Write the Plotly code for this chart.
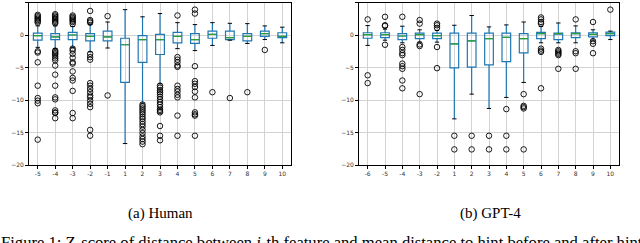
import plotly.graph_objects as go

# ---------------- data ----------------
human_labels = ["-5", "-4", "-3", "-2", "-1", "1", "2", "3", "4", "5", "6", "7", "8", "9", "10"]
human_q1 = [-0.8, -0.7, -0.7, -0.9, -0.9, -7.3, -4.2, -3.0, -1.2, -1.3, -0.5, -0.7, -0.9, -0.2, -0.4]
human_med = [-0.1, -0.3, 0.0, -0.2, -0.3, -1.5, -0.7, -0.7, -0.2, -0.7, 0.1, -0.4, -0.2, 0.2, -0.2]
human_q3 = [0.3, 0.2, 0.4, 0.2, 0.6, -0.5, -0.1, 0.1, 0.4, 0.2, 0.6, 0.6, 0.2, 0.6, 0.35]
human_lo = [-1.9, -2.1, -1.9, -2.6, -2.0, -16.7, -10.5, -7.5, -2.1, -2.4, -1.6, -0.8, -1.3, -0.7, -1.2]
human_hi = [1.4, 1.4, 1.3, 1.6, 2.0, 3.9, 2.8, 3.3, 1.9, 1.6, 1.9, 1.8, 1.75, 1.4, 1.2]
human_fliers = [
    [3.1, 2.9, 2.7, 2.5, 2.3, 2.1, 1.9, -2.5, -2.7, -4.2, -7.8, -9.7, -10.1, -10.5, -16.1],
    [3.2, 3.0, 2.8, 2.6, 2.4, 2.2, 2.0, 1.8, -2.4, -2.6, -2.8, -3.0, -3.3, -3.6, -3.9, -4.7, -6.1,
     -7.8, -9.6, -9.9, -11.6, -11.9, -12.0, -12.8],
    [3.0, 2.8, 2.6, 2.4, 2.2, 2.0, 1.7, -2.1, -2.4, -2.9, -3.5, -4.2, -4.4, -5.6, -6.6, -7.0, -8.6,
     -12.0, -12.8],
    [3.7, 2.3, 2.1, 1.9, -2.9, -3.4, -3.8, -7.4, -7.8, -8.3, -8.8, -9.3, -9.6, -10.1, -10.6, -11.1,
     -14.6, -15.5],
    [2.9, -9.3],
    [],
    [-10.7, -11.0, -11.3, -11.6, -11.9, -12.2, -12.6, -12.9, -13.3, -13.7, -14.1, -14.6, -15.1,
     -15.6, -16.0, -16.4, -16.8],
    [-7.8, -8.1, -8.5, -8.8, -9.1, -9.5, -9.9, -10.3, -10.7, -11.1, -11.5, -11.7, -11.9, -14.0,
     -15.5, -16.2],
    [3.0, -3.4, -3.8, -4.2, -4.7, -4.9, -7.8, -8.3, -8.7, -9.2, -9.6, -12.4, -15.5],
    [3.9, 3.3, -4.8, -7.1, -7.5, -8.0, -8.7, -9.6, -11.9, -12.2, -12.4, -15.5],
    [-8.8],
    [-9.7],
    [-8.8],
    [-2.3],
    [],
]

gpt_labels = ["-6", "-5", "-4", "-3", "-2", "1", "2", "3", "4", "5", "6", "7", "8", "9", "10"]
gpt_q1 = [-0.5, -0.4, -0.7, -0.55, -0.55, -5.05, -4.95, -4.6, -4.1, -2.75, -0.55, -0.7, -0.4, -0.3, -0.1]
gpt_med = [0.05, 0.05, -0.15, 0.05, -0.1, -1.35, -0.9, -0.55, -0.35, -0.55, 0.2, 0.2, 0.2, 0.1, 0.2]
gpt_q3 = [0.35, 0.35, 0.2, 0.3, 0.3, 0.3, 0.3, 0.3, 0.3, 0.2, 0.4, 0.3, 0.35, 0.35, 0.45]
gpt_lo = [-1.6, -0.8, -1.2, -1.1, -1.1, -12.9, -9.1, -11.3, -9.6, -7.3, -1.2, -1.2, -1.2, -0.8, -0.7]
gpt_hi = [1.45, 0.9, 1.35, 0.8, 0.7, 1.5, 3.0, 1.25, 1.55, 2.0, 1.3, 1.85, 1.4, 0.8, 0.6]
gpt_fliers = [
    [2.4, -6.2, -7.4],
    [2.8, 1.5, 1.4, -1.5],
    [2.8, -1.85, -2.3, -2.8, -3.1, -4.4, -4.8, -5.2, -7.0, -8.2],
    [2.3, 1.75, -1.45, -1.7, -9.1],
    [1.75, 1.5, 1.1, -1.85, -5.1],
    [-15.5, -17.6],
    [-15.5, -17.6],
    [-15.5, -17.6],
    [-11.4, -15.5, -17.6],
    [-9.1, -10.9, -11.1, -11.3, -17.6],
    [2.7, 2.4, 2.0, 1.75, -2.1, -2.4, -2.6, -8.2],
    [-2.3, -2.5, -2.7, -2.9, -3.1, -5.2],
    [2.4, -2.5, -2.8, -5.2],
    [2.0, -0.95, -1.35, -2.8],
    [3.9],
]

y_ticks = [-20, -15, -10, -5, 0, 5]
y_ticktext = ["\u221220", "\u221215", "\u221210", "\u22125", "0", "5"]

# ---------------- styling ----------------
C_BOX = "#1f77b4"
C_MED = "#2ca02c"
BOX_W = 0.5
CAP_HALF = 0.125

fig = go.Figure()


def add_panel(labels, q1, med, q3, lo, hi, fliers, xa, ya):
    pos = list(range(1, len(labels) + 1))
    fig.add_trace(go.Box(
        x=pos, q1=q1, median=med, q3=q3, lowerfence=lo, upperfence=hi,
        width=BOX_W, whiskerwidth=0, boxpoints=False,
        line=dict(color=C_BOX, width=1.2), fillcolor="rgba(0,0,0,0)",
        xaxis=xa, yaxis=ya, showlegend=False, hoverinfo="skip",
    ))
    # caps
    cx, cy = [], []
    for p, l, h in zip(pos, lo, hi):
        cx += [p - CAP_HALF, p + CAP_HALF, None, p - CAP_HALF, p + CAP_HALF, None]
        cy += [l, l, None, h, h, None]
    fig.add_trace(go.Scatter(x=cx, y=cy, mode="lines", line=dict(color="black", width=1),
                             xaxis=xa, yaxis=ya, showlegend=False, hoverinfo="skip"))
    # medians
    mx, my = [], []
    for p, m in zip(pos, med):
        mx += [p - BOX_W / 2 + 0.03, p + BOX_W / 2 - 0.03, None]
        my += [m, m, None]
    fig.add_trace(go.Scatter(x=mx, y=my, mode="lines", line=dict(color=C_MED, width=1.2),
                             xaxis=xa, yaxis=ya, showlegend=False, hoverinfo="skip"))
    # fliers
    fx, fy = [], []
    for p, fl in zip(pos, fliers):
        fx += [p] * len(fl)
        fy += fl
    fig.add_trace(go.Scatter(x=fx, y=fy, mode="markers",
                             marker=dict(symbol="circle-open", size=5.5, color="black",
                                         line=dict(width=0.9, color="black")),
                             xaxis=xa, yaxis=ya, showlegend=False, hoverinfo="skip"))


add_panel(human_labels, human_q1, human_med, human_q3, human_lo, human_hi, human_fliers, "x", "y")
add_panel(gpt_labels, gpt_q1, gpt_med, gpt_q3, gpt_lo, gpt_hi, gpt_fliers, "x2", "y2")

W, H = 640, 243
ydom = [1 - 165 / H, 1 - 2.5 / H]
tickfont = dict(family="DejaVu Sans", size=6, color="#333333")


def xaxis(dom, labels):
    return dict(domain=dom, range=[0.5, len(labels) + 0.5], automargin=False,
                tickvals=list(range(1, len(labels) + 1)), ticktext=labels,
                ticks="outside", ticklen=3, tickwidth=0.8, tickcolor="black",
                showline=True, mirror=True, linecolor="black", linewidth=1,
                showgrid=True, gridcolor="#d3d3d3", gridwidth=1, zeroline=False,
                tickfont=tickfont)


def yaxis(anchor):
    return dict(domain=ydom, range=[-20, 5], anchor=anchor, automargin=False,
                tickvals=y_ticks, ticktext=y_ticktext,
                ticks="outside", ticklen=3, tickwidth=0.8, tickcolor="black",
                showline=True, mirror=True, linecolor="black", linewidth=1,
                showgrid=True, gridcolor="#d3d3d3", gridwidth=1, zeroline=False,
                tickfont=tickfont)


fig.update_layout(
    width=W, height=H,
    margin=dict(l=0, r=0, t=0, b=0, autoexpand=False),
    paper_bgcolor="white", plot_bgcolor="white",
    xaxis=dict(xaxis([29 / W, 291 / W], human_labels), anchor="y"),
    yaxis=yaxis("x"),
    xaxis2=dict(xaxis([359 / W, 619 / W], gpt_labels), anchor="y2"),
    yaxis2=yaxis("x2"),
    showlegend=False,
)

serif = dict(family="Liberation Serif", size=15, color="black")
fig.add_annotation(text="(a) Human", x=160 / W, y=1 - 213 / H, xref="paper", yref="paper",
                   xanchor="center", yanchor="middle", showarrow=False, font=serif)
fig.add_annotation(text="(b) GPT-4", x=490 / W, y=1 - 213 / H, xref="paper", yref="paper",
                   xanchor="center", yanchor="middle", showarrow=False, font=serif)
fig.add_annotation(text="Figure 1: Z-score of distance between <i>i</i>-th feature and mean distance to hint before and after hint",
                   x=-1 / W, y=1 - 242 / H, xref="paper", yref="paper",
                   xanchor="left", yanchor="middle", showarrow=False,
                   font=dict(family="Liberation Serif", size=16.6, color="black"))

fig.write_html("out.html", config={"displayModeBar": False},
               post_script="document.body.style.margin='0';document.body.style.overflow='hidden';")
